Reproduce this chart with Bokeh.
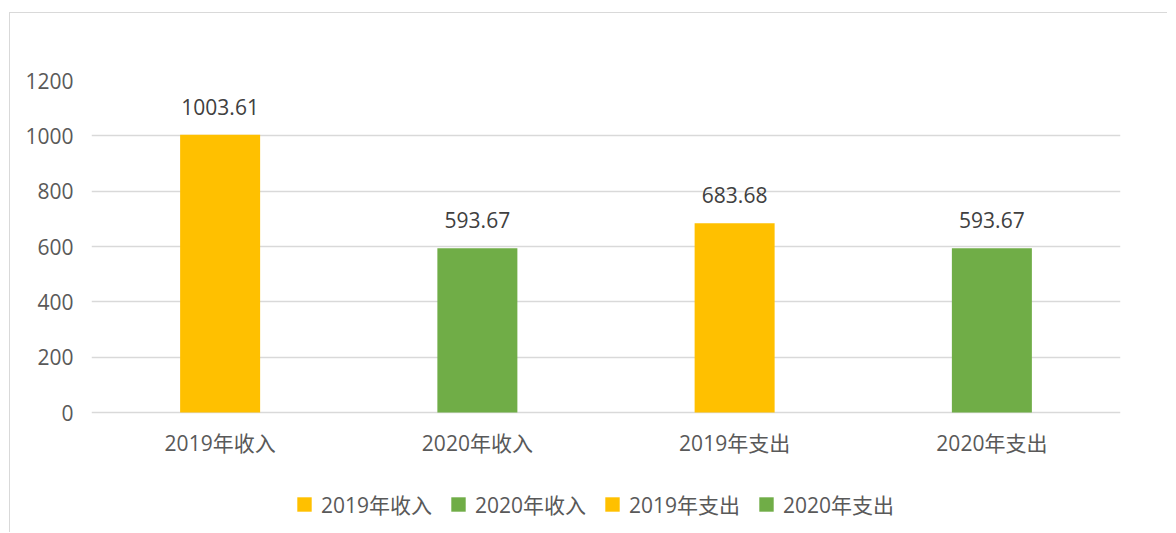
from bokeh.plotting import figure
from bokeh.models import ColumnDataSource, FactorRange, FixedTicker, Legend, LegendItem, LabelSet, Range1d
from bokeh.embed import file_html
from bokeh.resources import INLINE
from bokeh.core.properties import value

categories = ["2019年收入", "2020年收入", "2019年支出", "2020年支出"]
values = [1003.61, 593.67, 683.68, 593.67]
labels = ["1003.61", "593.67", "683.68", "593.67"]
colors = ["#FFC000", "#70AD47", "#FFC000", "#70AD47"]
y_ticks = [0, 200, 400, 600, 800, 1000, 1200]

FONT = "Open Sans, Noto Sans CJK SC"
FS = "21px"

# plot area: value axis 0..1200 spans 332px; frame extends below 0 to hold the category labels and legend
Y_MAX = 1200
Y_MIN = -Y_MAX * 121 / 332

p = figure(
    x_range=FactorRange(*categories, range_padding=0),
    y_range=Range1d(Y_MIN, Y_MAX),
    width=1158, height=520,
    output_backend="svg", toolbar_location=None,
    min_border_left=81, min_border_right=48, min_border_top=67, min_border_bottom=0,
)
p.margin = (12, 0, 0, 9)
p.styles = {"border-left": "1px solid #D9D9D9", "border-top": "1px solid #D9D9D9"}
p.outline_line_color = None
p.background_fill_color = "white"
p.border_fill_color = "white"

src = ColumnDataSource(dict(x=categories, top=values, label=labels, zero=[0] * len(categories)))
renderers = []
for i in range(len(categories)):
    s = ColumnDataSource(dict(x=[categories[i]], top=[values[i]]))
    r = p.vbar(x="x", top="top", width=0.311, source=s, fill_color=colors[i], line_color=None)
    renderers.append(r)

lbl = LabelSet(x="x", y="top", text="label", source=src, text_align="center",
               text_baseline="middle", y_offset=28, text_font=value(FONT),
               text_font_size=FS, text_color="#404040")
p.add_layout(lbl)

# category labels under the zero line
p.text(x="x", y="zero", text="x", source=src, text_align="center", text_baseline="middle",
       y_offset=30, text_font=value(FONT), text_font_size=FS, text_color="#595959")

p.xaxis.visible = False

p.yaxis.ticker = FixedTicker(ticks=y_ticks)
p.yaxis.axis_line_color = None
p.yaxis.major_tick_line_color = None
p.yaxis.minor_tick_line_color = None
p.yaxis.major_tick_out = 0
p.yaxis.major_tick_in = 0
p.yaxis.minor_tick_out = 0
p.yaxis.major_label_standoff = 18
p.yaxis.major_label_text_font = FONT
p.yaxis.major_label_text_font_size = FS
p.yaxis.major_label_text_color = "#595959"

p.xgrid.grid_line_color = None
p.ygrid.ticker = FixedTicker(ticks=y_ticks)
p.ygrid.grid_line_color = "#D9D9D9"
p.ygrid.grid_line_width = 1.5

items = [LegendItem(label=categories[i], renderers=[renderers[i]]) for i in range(len(categories))]
legend = Legend(items=items, orientation="horizontal", location=(204, 14),
                padding=0, margin=0, spacing=17, label_standoff=8,
                glyph_width=18, glyph_height=18, label_height=20,
                label_text_font=FONT, label_text_font_size=FS,
                label_text_color="#595959", border_line_color=None,
                background_fill_alpha=0)
p.add_layout(legend, "center")

open("out.html", "w").write(file_html(p, INLINE))
